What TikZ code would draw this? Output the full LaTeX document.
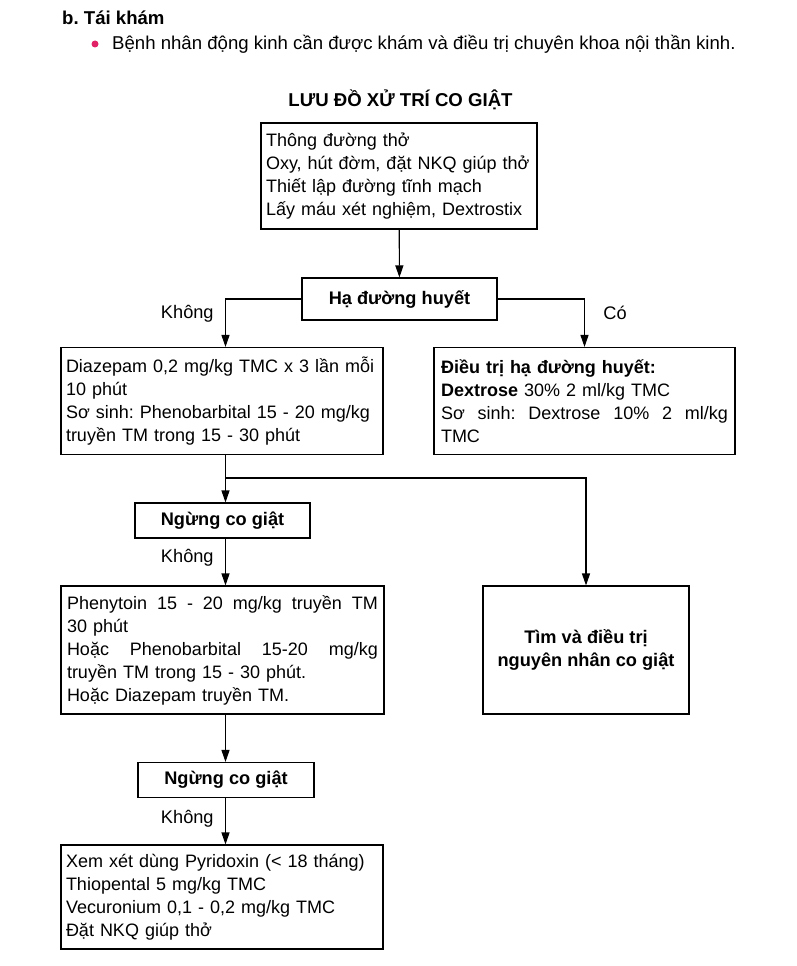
\documentclass[tikz,border=0pt]{standalone}
\usepackage{fontspec}
\setmainfont{Liberation Sans}
\usepackage{xcolor}
\usetikzlibrary{arrows.meta,positioning}
\definecolor{bulletpink}{RGB}{226,34,102}
\newcommand{\spread}[1]{\makebox[\hsize][s]{\spaceskip=.3em plus 1fil\relax #1}}

\begin{document}
\frenchspacing
\begin{tikzpicture}[x=1pt, y=-1pt,
  every node/.style={font=\fontsize{18}{23}\selectfont},
  box/.style={draw, line width=1.1pt, align=left, inner xsep=5pt, inner ysep=3pt},
  boldbox/.style={draw, line width=1.1pt, font=\fontsize{18.2}{23}\selectfont\bfseries,
                  align=center, inner sep=0pt},
  head/.style={font=\fontsize{18.6}{23}\selectfont\bfseries, inner sep=0pt},
  arr/.style={-{Triangle[length=12pt, width=8pt]}, line width=1.1pt},
  lbl/.style={font=\fontsize{18.2}{23}\selectfont},
]
  \useasboundingbox (0,0) rectangle (797,966);

  % heading above the chart
  \node[head, anchor=base west] (part) at (62,25) {b. Tái khám};
  \node[circle, fill=bulletpink, inner sep=0pt, minimum size=7pt] (dot) at (95,44) {};
  \node[anchor=base west, inner sep=0pt, font=\fontsize{18.6}{23}\selectfont] (note) at (112,50)
    {Bệnh nhân động kinh cần được khám và điều trị chuyên khoa nội thần kinh.};
  \node[head] (title) at (400.5,100) {LƯU ĐỒ XỬ TRÍ CO GIẬT};

  \node[box, text width=266pt, minimum height=106pt] (airway) at (399,176)
    {Thông đường thở\\Oxy, hút đờm, đặt NKQ giúp thở\\Thiết lập đường tĩnh mạch\\Lấy máu xét nghiệm, Dextrostix};
  \node[boldbox, minimum width=195pt, minimum height=42pt] (hypo) at (399.5,299) {Hạ đường huyết};

  \node[box, text width=312pt, minimum height=107pt] (diaz) at (222,401)
    {Diazepam 0,2 mg/kg TMC x 3 lần mỗi\\10 phút\\Sơ sinh: Phenobarbital 15 - 20 mg/kg\\truyền TM trong 15 - 30 phút};
  \node[box, text width=287pt, inner xsep=7pt, minimum height=107pt] (treat) at (584.5,401)
    {\textbf{Điều trị hạ đường huyết:}\\\textbf{Dextrose} 30\% 2 ml/kg TMC\\\spread{Sơ sinh: Dextrose 10\% 2 ml/kg}\\TMC};

  \node[boldbox, minimum width=175pt, minimum height=35pt] (stop1) at (222.5,520.5) {Ngừng co giật};
  \node[box, text width=311pt, inner xsep=6pt, minimum height=128pt] (pheny) at (222.5,650)
    {\spread{Phenytoin 15 - 20 mg/kg truyền TM}\\30 phút\\\spread{Hoặc Phenobarbital 15-20 mg/kg}\\truyền TM trong 15 - 30 phút.\\Hoặc Diazepam truyền TM.};
  \node[boldbox, minimum width=206pt, minimum height=128pt] (cause) at (586,650)
    {Tìm và điều trị\\nguyên nhân co giật};

  \node[boldbox, minimum width=176pt, minimum height=35pt] (stop2) at (226,780) {Ngừng co giật};
  \node[box, text width=312pt, minimum height=104pt] (last) at (222,897)
    {Xem xét dùng Pyridoxin (< 18 tháng)\\Thiopental 5 mg/kg TMC\\Vecuronium 0,1 - 0,2 mg/kg TMC\\Đặt NKQ giúp thở};

  \coordinate (spine) at (225.5,0);
  \coordinate (split) at (225.5,478);

  \draw[arr] (airway) -- (hypo);
  \draw[arr] (hypo.west) -| node[lbl, left=8pt, pos=0.65] {Không} (spine |- diaz.north);
  \draw[arr] (hypo.east) -| node[lbl, right=15pt, pos=0.65] {Có} (treat.north);
  \draw (spine |- diaz.south) -- (split);
  \draw[arr] (split) -- (spine |- stop1.north);
  \draw[arr] (split) -| (cause.north);
  \draw[arr] (spine |- stop1.south) -- node[lbl, left=8pt, pos=0.42] {Không} (spine |- pheny.north);
  \draw[arr] (spine |- pheny.south) -- (spine |- stop2.north);
  \draw[arr] (spine |- stop2.south) -- node[lbl, left=8pt, pos=0.44] {Không} (spine |- last.north);
\end{tikzpicture}
\end{document}
